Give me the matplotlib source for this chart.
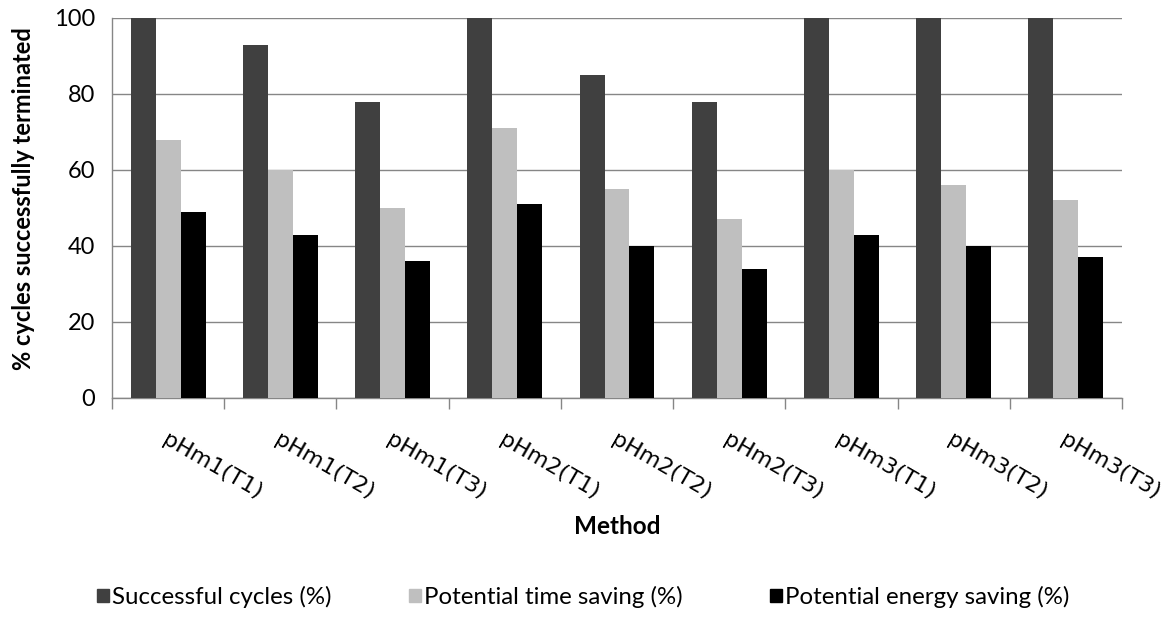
import matplotlib
matplotlib.use("Agg")
import matplotlib.pyplot as plt
import numpy as np
from matplotlib.patches import Rectangle

methods = ["pHm1(T1)", "pHm1(T2)", "pHm1(T3)",
           "pHm2(T1)", "pHm2(T2)", "pHm2(T3)",
           "pHm3(T1)", "pHm3(T2)", "pHm3(T3)"]
successful = [100, 93, 78, 100, 85, 78, 100, 100, 100]
time_saving = [68, 60, 50, 71, 55, 47, 60, 56, 52]
energy_saving = [49, 43, 36, 51, 40, 34, 43, 40, 37]
series_names = ["Successful cycles (%)", "Potential time saving (%)",
                "Potential energy saving (%)"]
series_colors = ["#404040", "#BFBFBF", "#000000"]
y_ticks = [0, 20, 40, 60, 80, 100]

font = "Lato"
grid_col = "#868686"

fig = plt.figure(figsize=(11.69, 6.17), dpi=100)
ax = fig.add_axes([112 / 1169, 1 - 398 / 617, (1122 - 112) / 1169, (398 - 18) / 617])

n = len(methods)
x = np.arange(n)
w = 1 / 4.5
for i, (vals, col) in enumerate(zip([successful, time_saving, energy_saving], series_colors)):
    ax.bar(x + (i - 1) * w, vals, width=w, color=col, zorder=3, linewidth=0)

ax.set_xlim(-0.5, n - 0.5)
ax.set_ylim(0, 100)
ax.set_yticks(y_ticks)
ax.set_yticklabels([str(t) for t in y_ticks], fontsize=17, family=font)
ax.yaxis.grid(True, color=grid_col, linewidth=1, zorder=0)
ax.tick_params(axis="y", length=0, pad=12)

# category boundaries carry the tick marks; labels are placed by hand
ax.set_xticks(np.arange(n + 1) - 0.5)
ax.set_xticklabels([])
ax.tick_params(axis="x", length=8, color=grid_col, width=1)
for sp in ["top", "right"]:
    ax.spines[sp].set_visible(False)
for sp in ["left", "bottom"]:
    ax.spines[sp].set_color(grid_col)
    ax.spines[sp].set_linewidth(1)

for xi, lab in zip(x, methods):
    ax.annotate(lab, xy=(xi, 0), xycoords="data", xytext=(-3, -29),
                textcoords="offset points", rotation=-30, rotation_mode="anchor",
                ha="left", va="center", fontsize=16, family="DejaVu Sans",
                annotation_clip=False)

fig.text(24 / 1169, 1 - 199 / 617, "% cycles successfully terminated", rotation=90,
         ha="center", va="center", fontsize=17, fontweight="bold", family=font)
fig.text(617 / 1169, 1 - 526 / 617, "Method", ha="center", va="center",
         fontsize=17.5, fontweight="bold", family=font)

# legend row
leg_x = [97, 409, 770]
for lx, name, col in zip(leg_x, series_names, series_colors):
    fig.patches.append(Rectangle((lx / 1169, 1 - 602 / 617), 12 / 1169, 13 / 617,
                                 transform=fig.transFigure, color=col, figure=fig))
    fig.text((lx + 15) / 1169, 1 - 597 / 617, name, ha="left", va="center",
             fontsize=17.3, family=font)

fig.savefig("out.png", dpi=100)
